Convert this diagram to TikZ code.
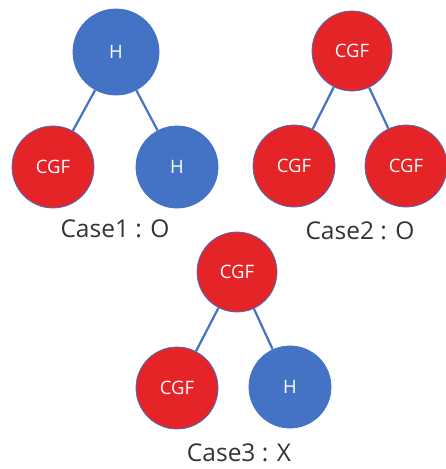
\documentclass[tikz,border=0pt]{standalone}
\usepackage{fontspec}
\setmainfont{Open Sans}
\definecolor{hblue}{HTML}{4472C4}
\definecolor{cred}{HTML}{E52428}
\begin{document}
\begin{tikzpicture}[x=1pt,y=-1pt,
  hnode/.style={circle,fill=hblue,draw=hblue,line width=0.8pt,minimum size=82pt,inner sep=0pt,text=white,font=\fontsize{18.5}{20}\selectfont},
  cnode/.style={circle,fill=cred,draw=hblue,line width=0.8pt,minimum size=82pt,inner sep=0pt,text=white,font=\fontsize{18.5}{20}\selectfont},
  edge/.style={draw=hblue,line width=2.2pt},
  caselabel/.style={font=\fontsize{24.5}{28}\selectfont,text=black!80}]
\useasboundingbox (0,0) rectangle (446,469);
% Case 1
\node[hnode,minimum size=86pt] (a1) at (116,52) {H};
\node[cnode] (a2) at (53,167) {CGF};
\node[hnode] (a3) at (177,167) {H};
\draw[edge] (a1) -- (a2);
\draw[edge] (a1) -- (a3);
\node[caselabel] (l1) at (115,229) {Case1 : O};
% Case 2
\node[cnode,minimum size=80pt] (b1) at (352,51) {CGF};
\node[cnode] (b2) at (294,166) {CGF};
\node[cnode] (b3) at (406,166) {CGF};
\draw[edge] (b1) -- (b2);
\draw[edge] (b1) -- (b3);
\node[caselabel] (l2) at (360,231) {Case2 : O};
% Case 3
\node[cnode,minimum size=80pt] (c1) at (237,272) {CGF};
\node[cnode] (c2) at (177,388) {CGF};
\node[hnode] (c3) at (290,387) {H};
\draw[edge] (c1) -- (c2);
\draw[edge] (c1) -- (c3);
\node[caselabel] (l3) at (239,453) {Case3 : X};
\end{tikzpicture}
\end{document}
